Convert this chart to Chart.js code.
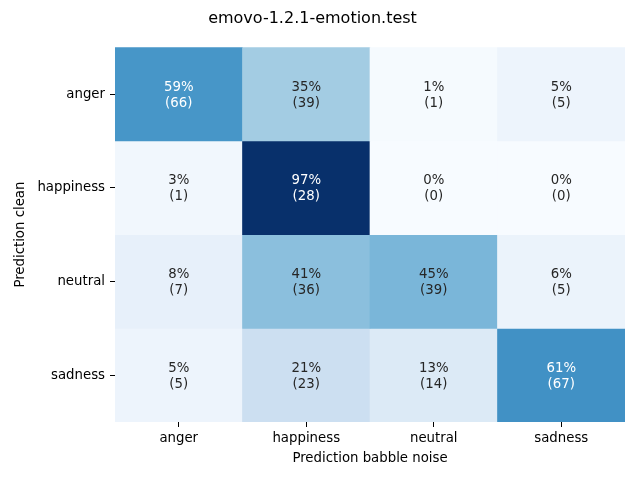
<!DOCTYPE html>
<html lang="en">
<head>
  <meta charset="UTF-8">
  <title>emovo-1.2.1-emotion.test</title>
  <script src="https://cdn.jsdelivr.net/npm/chart.js"></script>
  <style>
    html, body { margin: 0; padding: 0; background: #fff; }
    #chartBox { width: 640px; height: 480px; }
  </style>
</head>
<body>
  <div id="chartBox"><canvas id="myChart"></canvas></div>
  <script>
    // rows = clean prediction, columns = babble-noise prediction
    const rowLabels = ['anger', 'happiness', 'neutral', 'sadness'];
    const colLabels = ['anger', 'happiness', 'neutral', 'sadness'];
    const percents = [
      [59, 35, 1, 5],
      [3, 97, 0, 0],
      [8, 41, 45, 6],
      [5, 21, 13, 61]
    ];
    const counts = [
      [66, 39, 1, 5],
      [1, 28, 0, 0],
      [7, 36, 39, 5],
      [5, 23, 14, 67]
    ];

    // matplotlib "Blues"
    const blues = ['#f7fbff', '#deebf7', '#c6dbef', '#9ecae1', '#6baed6',
                   '#4292c6', '#2171b5', '#08519c', '#08306b'];
    const vmax = Math.max(...percents.flat());

    function hexToRgb(h) {
      return [1, 3, 5].map(i => parseInt(h.substr(i, 2), 16));
    }
    function bluesAt(t) {
      t = Math.min(1, Math.max(0, t));
      const pos = t * (blues.length - 1);
      const i = Math.min(blues.length - 2, Math.floor(pos));
      const f = pos - i;
      const a = hexToRgb(blues[i]), b = hexToRgb(blues[i + 1]);
      return a.map((v, k) => Math.round(v + (b[k] - v) * f));
    }
    function cellColor(p) {
      const c = bluesAt(p / vmax);
      return 'rgb(' + c.join(',') + ')';
    }
    function textColor(p) {
      const c = bluesAt(p / vmax).map(v => {
        v = v / 255;
        return v <= 0.03928 ? v / 12.92 : Math.pow((v + 0.055) / 1.055, 2.4);
      });
      const lum = 0.2126 * c[0] + 0.7152 * c[1] + 0.0722 * c[2];
      return lum > 0.408 ? '#262626' : '#ffffff';
    }

    const datasets = rowLabels.map((r, i) => ({
      label: r,
      data: colLabels.map(() => [i, i + 1]),
      backgroundColor: percents[i].map(cellColor),
      borderWidth: 0,
      barPercentage: 1,
      categoryPercentage: 1
    }));

    const cellText = {
      id: 'cellText',
      afterDatasetsDraw(chart) {
        const ctx = chart.ctx;
        ctx.save();
        ctx.font = '13.3px "DejaVu Sans"';
        ctx.textAlign = 'center';
        ctx.textBaseline = 'middle';
        chart.data.datasets.forEach((ds, i) => {
          chart.getDatasetMeta(i).data.forEach((bar, j) => {
            const cx = bar.x;
            const cy = (bar.y + bar.base) / 2;
            ctx.fillStyle = textColor(percents[i][j]);
            ctx.fillText(percents[i][j] + '%', cx, cy - 7);
            ctx.fillText('(' + counts[i][j] + ')', cx, cy + 9);
          });
        });
        ctx.restore();
      }
    };

    Chart.defaults.font.family = '"DejaVu Sans"';
    Chart.defaults.color = '#000';

    const ctx = document.getElementById('myChart').getContext('2d');
    new Chart(ctx, {
      type: 'bar',
      data: { labels: colLabels, datasets: datasets },
      options: {
        responsive: true,
        maintainAspectRatio: false,
        animation: false,
        layout: { padding: { left: 0, right: 15, top: 0, bottom: 0 } },
        plugins: {
          legend: { display: false },
          tooltip: { enabled: false },
          title: {
            display: true,
            text: 'emovo-1.2.1-emotion.test',
            color: '#000',
            font: { size: 16, weight: 'normal' },
            padding: { top: 9, bottom: 19 }
          }
        },
        scales: {
          x: {
            stacked: true,
            grid: { display: true, drawOnChartArea: false, offset: false, tickLength: 5, color: '#000' },
            border: { display: false },
            ticks: { font: { size: 13.3 }, color: '#000', padding: 4 },
            title: {
              display: true,
              text: 'Prediction babble noise',
              font: { size: 13.3 },
              color: '#000',
              padding: { top: 0, bottom: 13 }
            },
            afterFit(scale) { scale.height = 58; }
          },
          y: {
            type: 'linear',
            stacked: false,
            reverse: true,
            min: 0,
            max: rowLabels.length,
            grid: { display: true, drawOnChartArea: false, tickLength: 5, color: '#000' },
            border: { display: false },
            afterBuildTicks(scale) {
              scale.ticks = rowLabels.map((r, i) => ({ value: i + 0.5 }));
            },
            ticks: {
              font: { size: 13.3 },
              color: '#000',
              padding: 5,
              callback: (v) => rowLabels[Math.floor(v)]
            },
            title: {
              display: true,
              text: 'Prediction clean',
              font: { size: 13.3 },
              color: '#000',
              padding: { top: 13, bottom: 0 }
            },
            afterFit(scale) { scale.width = 115; }
          }
        }
      },
      plugins: [cellText]
    });
  </script>
</body>
</html>
